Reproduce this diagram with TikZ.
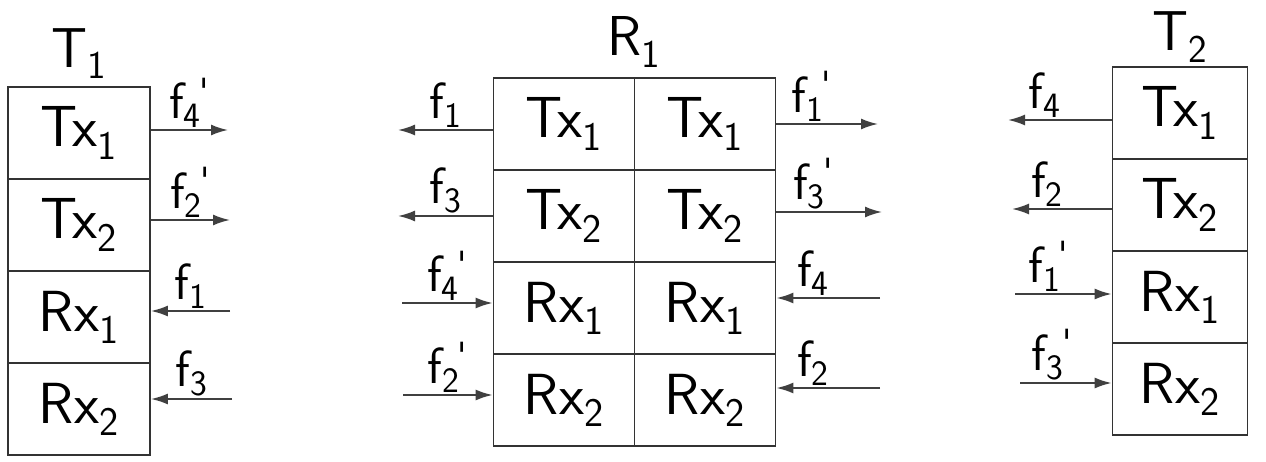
\documentclass[tikz,border=0pt]{standalone}
\usetikzlibrary{arrows.meta, positioning}
\newcommand{\cellname}[2]{#1\textsubscript{#2}}
\newcommand{\fname}[2]{f\textsubscript{#1}\kern-0.04em\textsuperscript{#2}}
\begin{document}
\begin{tikzpicture}[x=0.02cm, y=-0.02cm,
    cell/.style={rectangle, draw=black!80, line width=1pt, minimum width=2.84cm, minimum height=1.84cm, inner sep=0pt, font=\fontsize{33}{38}\selectfont\sffamily},
    title/.style={font=\fontsize{32}{36}\selectfont\sffamily, inner sep=2pt},
    arrow/.style={-{Latex[length=3.4mm, width=2.2mm]}, draw=black!75, line width=1.1pt},
    flab/.style={above, font=\fontsize{29}{32}\selectfont\sffamily, inner sep=1pt}
]
\useasboundingbox (0,0) rectangle (1266,462);

% T1
\node[cell] (t1tx1) at (79,133) {\cellname{Tx}{1}};
\node[cell] (t1tx2) at (79,225) {\cellname{Tx}{2}};
\node[cell] (t1rx1) at (79,317) {\cellname{Rx}{1}};
\node[cell] (t1rx2) at (79,409) {\cellname{Rx}{2}};
\node[title, above=2pt of t1tx1] (t1) {\cellname{T}{1}};

% R1
\node[cell, minimum width=2.82cm] (r1tx1a) at (564,124) {\cellname{Tx}{1}};
\node[cell, minimum width=2.82cm] (r1tx2a) at (564,216) {\cellname{Tx}{2}};
\node[cell, minimum width=2.82cm] (r1rx1a) at (564,308) {\cellname{Rx}{1}};
\node[cell, minimum width=2.82cm] (r1rx2a) at (564,400) {\cellname{Rx}{2}};
\node[cell, minimum width=2.82cm] (r1tx1b) at (705,124) {\cellname{Tx}{1}};
\node[cell, minimum width=2.82cm] (r1tx2b) at (705,216) {\cellname{Tx}{2}};
\node[cell, minimum width=2.82cm] (r1rx1b) at (705,308) {\cellname{Rx}{1}};
\node[cell, minimum width=2.82cm] (r1rx2b) at (705,400) {\cellname{Rx}{2}};
\node[title] (r1) at (634,42) {\cellname{R}{1}};

% T2
\node[cell, minimum width=2.7cm] (t2tx1) at (1180,113) {\cellname{Tx}{1}};
\node[cell, minimum width=2.7cm] (t2tx2) at (1180,205) {\cellname{Tx}{2}};
\node[cell, minimum width=2.7cm] (t2rx1) at (1180,297) {\cellname{Rx}{1}};
\node[cell, minimum width=2.7cm] (t2rx2) at (1180,389) {\cellname{Rx}{2}};
\node[title, above=0pt of t2tx1] (t2) {\cellname{T}{2}};

% free ends of the arrows
\coordinate (a1) at (228,130);
\coordinate (a2) at (230,220);
\coordinate (a3) at (230,311);
\coordinate (a4) at (232,399);
\coordinate (b1) at (398,130);
\coordinate (b2) at (398,216);
\coordinate (b3) at (402,303);
\coordinate (b4) at (403,395);
\coordinate (c1) at (878,124);
\coordinate (c2) at (882,212);
\coordinate (c3) at (880,298);
\coordinate (c4) at (880,388);
\coordinate (d1) at (1008,120);
\coordinate (d2) at (1012,209);
\coordinate (d3) at (1015,294);
\coordinate (d4) at (1020,383);

% T1 arrows
\draw[arrow] (a1 -| t1tx1.east) -- node[flab]{\fname{4}{\textquotesingle}} (a1);
\draw[arrow] (a2 -| t1tx2.east) -- node[flab]{\fname{2}{\textquotesingle}} (a2);
\draw[arrow] (a3) -- node[flab]{\fname{1}{}} (a3 -| t1rx1.east);
\draw[arrow] (a4) -- node[flab]{\fname{3}{}} (a4 -| t1rx2.east);

% R1 arrows
\draw[arrow] (b1 -| r1tx1a.west) -- node[flab]{\fname{1}{}} (b1);
\draw[arrow] (b2 -| r1tx2a.west) -- node[flab]{\fname{3}{}} (b2);
\draw[arrow] (b3) -- node[flab]{\fname{4}{\textquotesingle}} (b3 -| r1rx1a.west);
\draw[arrow] (b4) -- node[flab]{\fname{2}{\textquotesingle}} (b4 -| r1rx2a.west);
\draw[arrow] (c1 -| r1tx1b.east) -- node[flab, pos=0.35]{\fname{1}{\textquotesingle}} (c1);
\draw[arrow] (c2 -| r1tx2b.east) -- node[flab, pos=0.35]{\fname{3}{\textquotesingle}} (c2);
\draw[arrow] (c3) -- node[flab, pos=0.65]{\fname{4}{}} (c3 -| r1rx1b.east);
\draw[arrow] (c4) -- node[flab, pos=0.65]{\fname{2}{}} (c4 -| r1rx2b.east);

% T2 arrows
\draw[arrow] (d1 -| t2tx1.west) -- node[flab, pos=0.65]{\fname{4}{}} (d1);
\draw[arrow] (d2 -| t2tx2.west) -- node[flab, pos=0.65]{\fname{2}{}} (d2);
\draw[arrow] (d3) -- node[flab, pos=0.35]{\fname{1}{\textquotesingle}} (d3 -| t2rx1.west);
\draw[arrow] (d4) -- node[flab, pos=0.35]{\fname{3}{\textquotesingle}} (d4 -| t2rx2.west);
\end{tikzpicture}
\end{document}
